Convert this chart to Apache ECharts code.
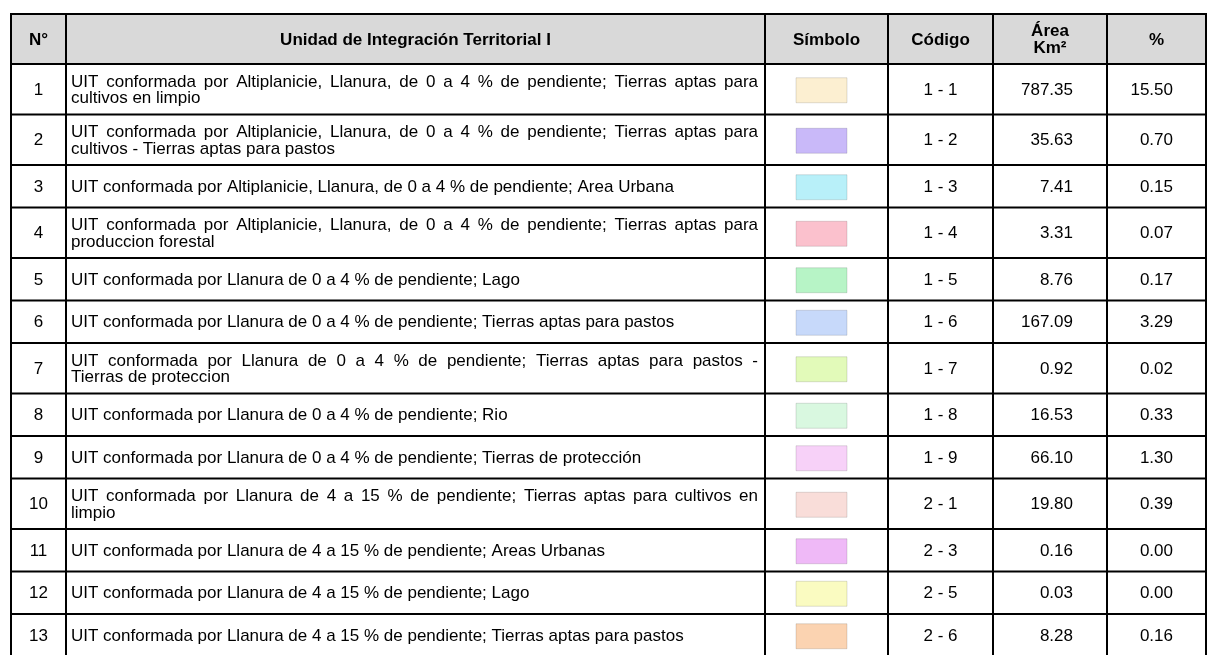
<!DOCTYPE html>
<html><head><meta charset="utf-8">
<script src="https://cdn.jsdelivr.net/npm/echarts@6/dist/echarts.min.js"></script>
<style>html,body{margin:0;padding:0;background:#fff}#c{width:1208px;height:655px}</style>
</head><body><div id="c"></div>
<script>
// ---------- data ----------
const headers = ['N°', 'Unidad de Integración Territorial I', 'Símbolo', 'Código', 'Área\nKm²', '%'];
const rowNumbers = [1, 2, 3, 4, 5, 6, 7, 8, 9, 10, 11, 12, 13];
const descriptions = [
  'UIT conformada por Altiplanicie, Llanura, de 0 a 4 % de pendiente; Tierras aptas para\ncultivos en limpio',
  'UIT conformada por Altiplanicie, Llanura, de 0 a 4 % de pendiente; Tierras aptas para\ncultivos - Tierras aptas para pastos',
  'UIT conformada por Altiplanicie, Llanura, de 0 a 4 % de pendiente; Area Urbana',
  'UIT conformada por Altiplanicie, Llanura, de 0 a 4 % de pendiente; Tierras aptas para\nproduccion forestal',
  'UIT conformada por Llanura de 0 a 4 % de pendiente; Lago',
  'UIT conformada por Llanura de 0 a 4 % de pendiente; Tierras aptas para pastos',
  'UIT conformada por Llanura de 0 a 4 % de pendiente; Tierras aptas para pastos -\nTierras de proteccion',
  'UIT conformada por Llanura de 0 a 4 % de pendiente; Rio',
  'UIT conformada por Llanura de 0 a 4 % de pendiente; Tierras de protección',
  'UIT conformada por Llanura de 4 a 15 % de pendiente; Tierras aptas para cultivos en\nlimpio',
  'UIT conformada por Llanura de 4 a 15 % de pendiente; Areas Urbanas',
  'UIT conformada por Llanura de 4 a 15 % de pendiente; Lago',
  'UIT conformada por Llanura de 4 a 15 % de pendiente; Tierras aptas para pastos'
];
const symbolColors = ['#fcefd1', '#c9b9f9', '#b8f0f9', '#fbc1cd', '#b7f4c6', '#c7d9fa', '#e2fab9',
  '#d9f8e0', '#f7d1f8', '#f9ddd9', '#efb9f7', '#fafbc1', '#fbd3b1'];
const codes = ['1 - 1', '1 - 2', '1 - 3', '1 - 4', '1 - 5', '1 - 6', '1 - 7', '1 - 8', '1 - 9', '2 - 1', '2 - 3', '2 - 5', '2 - 6'];
const areas = [787.35, 35.63, 7.41, 3.31, 8.76, 167.09, 0.92, 16.53, 66.10, 19.80, 0.16, 0.03, 8.28];
const percents = [15.50, 0.70, 0.15, 0.07, 0.17, 3.29, 0.02, 0.33, 1.30, 0.39, 0.00, 0.00, 0.16];

// ---------- layout / style ----------
const colX = [11, 66, 765, 888, 993, 1107, 1206];
const TOP = 14, HEAD_BOTTOM = 64;
const H1 = 42.5, H2 = 50.5, LINE_GAP = 16.5;
const LW = 2;

const FAMILY = '"Liberation Sans", Arial, sans-serif';
const FS = 17;
const ctx = document.createElement('canvas').getContext('2d');
function measure(t, weight) { ctx.font = (weight || 'normal') + ' ' + FS + 'px ' + FAMILY; return ctx.measureText(t).width; }

function txt(text, x, y, align, weight, extra) {
  return Object.assign({
    type: 'text', x: x, y: y,
    style: { text: text, fill: '#000', fontSize: FS, fontFamily: FAMILY, fontWeight: weight || 'normal',
             align: align, verticalAlign: 'middle', lineHeight: 17 }
  }, extra || {});
}

const rowLines = descriptions.map(d => d.split('\n').length);
const rowTops = [];
let yy = HEAD_BOTTOM;
rowLines.forEach(n => { rowTops.push(yy); yy += (n > 1 ? H2 : H1); });
const rowBottoms = rowTops.map((t, i) => t + (rowLines[i] > 1 ? H2 : H1));
const TABLE_BOTTOM = rowBottoms[rowBottoms.length - 1];

function renderRow(params, api) {
  const i = params.dataIndex;
  const t = rowTops[i], b = rowBottoms[i], cy = (t + b) / 2;
  const children = [];
  children.push(txt(String(rowNumbers[i]), (colX[0] + colX[1]) / 2, cy + 1, 'center'));
  const lines = descriptions[i].split('\n');
  const x0 = colX[1] + 5, width = colX[2] - 7 - x0;
  lines.forEach((ln, k) => {
    const ly = cy + (k - (lines.length - 1) / 2) * LINE_GAP + 1;
    if (k < lines.length - 1) {
      const words = ln.split(' ');
      const ws = words.map(w => measure(w));
      const tot = ws.reduce((a, c) => a + c, 0);
      const gap = Math.max(measure(' ') * 0.8, (width - tot) / (words.length - 1));
      let cx = x0;
      words.forEach((w, j) => { children.push(txt(w, cx, ly, 'left')); cx += ws[j] + gap; });
    } else {
      children.push(txt(ln, x0, ly, 'left'));
    }
  });
  children.push({ type: 'rect', shape: { x: 796, y: cy - 11.5, width: 51, height: 25 },
    style: { fill: symbolColors[i], stroke: 'rgba(0,0,0,0.13)', lineWidth: 1 } });
  children.push(txt(codes[i], (colX[3] + colX[4]) / 2, cy + 1, 'center'));
  children.push(txt(areas[i].toFixed(2), 1073, cy + 1, 'right'));
  children.push(txt(percents[i].toFixed(2), 1173, cy + 1, 'right'));
  children.push({ type: 'line', shape: { x1: colX[0], y1: b, x2: colX[6], y2: b }, style: { stroke: '#000', lineWidth: LW } });
  return { type: 'group', children: children };
}

const graphics = [];
graphics.push({ type: 'rect', shape: { x: colX[0], y: TOP, width: colX[6] - colX[0], height: HEAD_BOTTOM - TOP }, style: { fill: '#d9d9d9' }, z: 0 });
headers.forEach((h, k) => {
  const cx = (colX[k] + colX[k + 1]) / 2;
  const cy = (TOP + HEAD_BOTTOM) / 2 + 1;
  if (h.indexOf('\n') >= 0) {
    const parts = h.split('\n');
    parts.forEach((p, j) => graphics.push(Object.assign(txt(p, cx, cy + (j - 0.5) * 17, 'center', 'bold'), { z: 5 })));
  } else {
    graphics.push(Object.assign(txt(h, cx, cy, 'center', 'bold'), { z: 5 }));
  }
});
[TOP, HEAD_BOTTOM].forEach(y => graphics.push({ type: 'line', z: 10, shape: { x1: colX[0] - 1, y1: y, x2: colX[6] + 1, y2: y }, style: { stroke: '#000', lineWidth: LW } }));
colX.forEach(x => graphics.push({ type: 'line', z: 10, shape: { x1: x, y1: TOP - 1, x2: x, y2: TABLE_BOTTOM + 1 }, style: { stroke: '#000', lineWidth: LW } }));

const chart = echarts.init(document.getElementById('c'), null, { renderer: 'canvas' });
chart.setOption({
  backgroundColor: '#ffffff',
  animation: false,
  graphic: graphics,
  series: [{
    type: 'custom',
    coordinateSystem: 'none',
    renderItem: renderRow,
    data: rowNumbers.map((n, i) => [n, areas[i], percents[i]]),
    silent: true
  }]
});
</script>
</body></html>
